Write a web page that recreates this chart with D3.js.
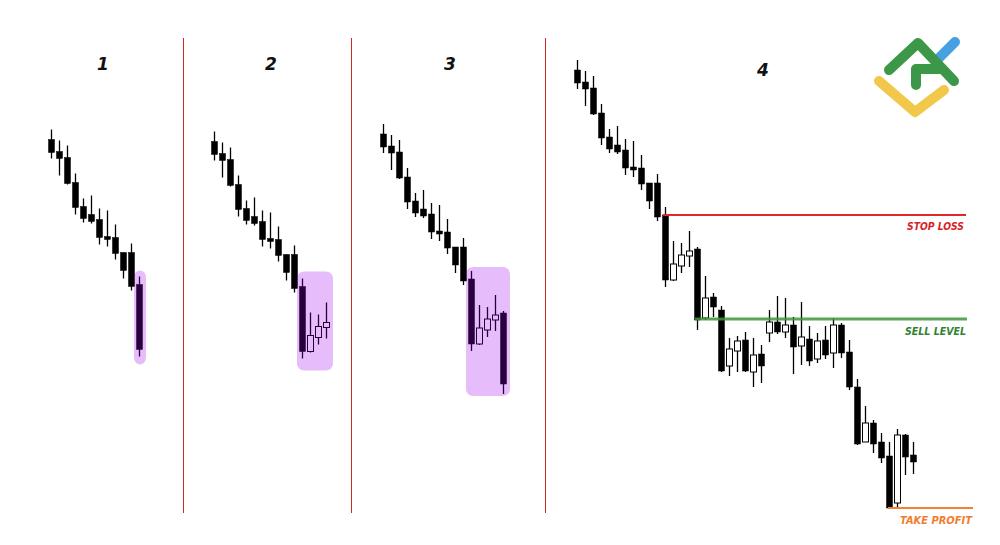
<!DOCTYPE html>
<html><head><meta charset="utf-8">
<script src="https://cdn.jsdelivr.net/npm/d3@7"></script>
<style>html,body{margin:0;padding:0;background:#fff;}svg{display:block;}</style>
</head><body>
<svg id="chart" width="1000" height="545"></svg>
<script>
// ---- data (price units) ----
const openP  = [450,438,432,407,383,375,370,353,352,337,337,305,240,254,264,271,202,223,210,154,169,180,148,166,187,198,188,195,174,181,161,180,167,195,168,133,78,97,78,64,17,85,65];
const highP  = [460,449,444,416,391,394,381,379,365,337,346,313,279,277,289,273,244,227,214,182,184,188,182,175,210,224,222,203,218,194,187,194,202,197,180,141,114,100,87,78,91,86,78];
const lowP   = [431,414,405,375,367,366,345,343,330,311,299,233,239,247,253,190,200,203,148,144,148,148,133,137,178,186,182,146,155,154,157,161,152,162,130,75,78,67,57,12,13,45,46];
const closeP = [437,431,406,382,371,368,352,350,336,319,303,240,256,265,269,200,222,213,149,171,179,149,165,154,198,188,195,173,183,159,179,165,195,167,133,76,97,76,62,12,85,63,58];
const panelTitles = ["1","2","3","4"];
const levelNames = ["STOP LOSS","SELL LEVEL","TAKE PROFIT"];
const levelValues = [305,201,12];

// ---- layout ----
const svg = d3.select("#chart");
const y = d3.scaleLinear().domain([0,520]).range([520,0]);
const x = d3.scaleLinear().domain([0,42]).range([0,336]);
const panels = [
  {n:12, tx:51,  ty:69.5, title:[103,70], pad:[6,8]},
  {n:15, tx:214, ty:71.5, title:[271,70], pad:[7,12]},
  {n:16, tx:383, ty:64,   title:[450,70], pad:[4,2]},
  {n:43, tx:577, ty:0,    title:[763,76]}
];
const candles = openP.map((o,i)=>({i, o, h:highP[i], l:lowP[i], c:closeP[i]}));

// dividers
[183.5,351.5,545.5].forEach(dx=>{
  svg.append("line").attr("x1",dx).attr("x2",dx).attr("y1",38).attr("y2",513)
    .attr("stroke","rgb(205,40,40)").attr("stroke-width",1);
});

panels.forEach((p,pi)=>{
  const g = svg.append("g").attr("transform",`translate(${p.tx},${p.ty})`);
  const data = candles.slice(0,p.n);
  const cg = g.selectAll("g.c").data(data).join("g").attr("class","c");
  cg.append("line")
    .attr("x1",d=>x(d.i)+0.5).attr("x2",d=>x(d.i)+0.5)
    .attr("y1",d=>y(d.h)).attr("y2",d=>y(d.l))
    .attr("stroke","#000").attr("stroke-width",1.3);
  cg.append("rect")
    .attr("x",d=>x(d.i)-2.5).attr("width",6)
    .attr("y",d=>y(Math.max(d.o,d.c)))
    .attr("height",d=>Math.max(1.5,Math.abs(y(d.o)-y(d.c))))
    .attr("fill",d=>d.c>d.o?"#fff":"#000")
    .attr("stroke","#000")
    .attr("stroke-width",d=>d.c>d.o?1:0.5);
  if (p.pad){
    const hl = data.slice(11);
    const top = y(d3.max(hl,d=>d.h)) - p.pad[0];
    const bot = y(d3.min(hl,d=>d.l)) + p.pad[1];
    g.append("rect")
      .attr("x",x(11)-5).attr("width",x(p.n-1)-x(11)+12)
      .attr("y",top).attr("height",bot-top)
      .attr("rx",7).attr("ry",7)
      .attr("fill","rgb(157,0,235)").attr("fill-opacity",0.26);
  }
  svg.append("text").attr("x",p.title[0]).attr("y",p.title[1])
    .attr("text-anchor","middle")
    .attr("font-family","DejaVu Sans").attr("font-weight","bold").attr("font-style","italic")
    .attr("font-size",17).attr("fill","#111").text(panelTitles[pi]);
});

// levels in panel 4
const p4 = panels[3];
const levels = [
  {x1:663, x2:966, color:"rgb(225,40,40)", w:2, tcolor:"rgb(215,30,40)", tx:964, tdy:15, tlen:57},
  {x1:695, x2:967, color:"rgb(60,150,60)", w:3, opacity:0.85, tcolor:"rgb(50,130,50)", tx:966, tdy:16, tlen:61},
  {x1:888, x2:973, color:"rgb(240,130,50)", w:2, tcolor:"rgb(240,125,45)", tx:972, tdy:16, tlen:72}
];
levels.forEach((L,i)=>{
  const yy = y(levelValues[i]) + p4.ty;
  svg.append("line").attr("x1",L.x1).attr("x2",L.x2).attr("y1",yy).attr("y2",yy)
    .attr("stroke",L.color).attr("stroke-width",L.w).attr("stroke-opacity",L.opacity||1);
  svg.append("text").attr("x",L.tx).attr("y",yy+L.tdy).attr("text-anchor","end")
    .attr("font-family","DejaVu Sans Condensed, DejaVu Sans").attr("font-weight","bold").attr("font-style","italic")
    .attr("font-size",10.5).attr("fill",L.tcolor)
    .attr("textLength",L.tlen).attr("lengthAdjust","spacingAndGlyphs")
    .text(levelNames[i]);
});

// logo
const logo = svg.append("g").attr("fill","none").attr("stroke-linecap","round").attr("stroke-linejoin","round").attr("stroke-width",10);
logo.append("path").attr("d","M938,59 L955,42").attr("stroke","rgb(70,160,225)");
logo.append("path").attr("d","M879,81 L915,112 L944,90").attr("stroke","rgb(242,200,75)");
logo.append("path").attr("d","M889,70 L918,43 L954,81").attr("stroke","rgb(60,152,72)");
logo.append("path").attr("d","M916,85 L916,69 L941,69").attr("stroke","rgb(60,152,72)");
</script>
</body></html>
